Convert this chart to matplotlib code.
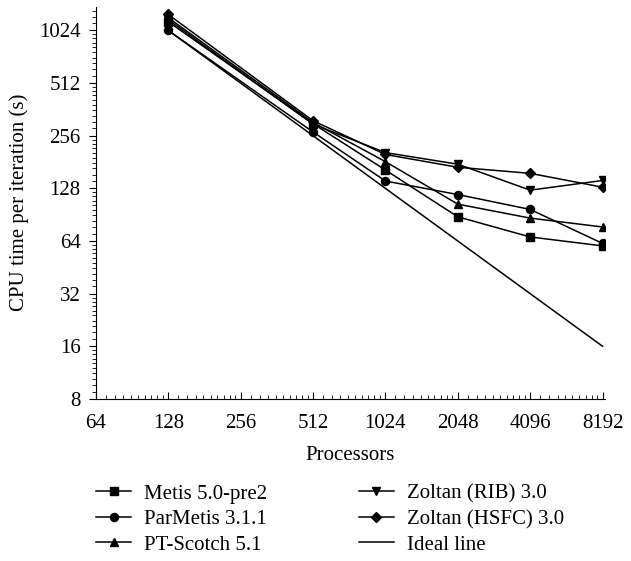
import matplotlib
matplotlib.use("Agg")
import matplotlib.pyplot as plt
from matplotlib.ticker import FixedLocator, NullFormatter

plt.rcParams["font.family"] = ["Liberation Serif", "DejaVu Serif"]

procs = [128, 512, 1024, 2048, 4096, 8192]
metis = [1150, 300, 163, 88, 67.5, 60]
parmetis = [1024, 269, 141, 118, 97, 62]
ptscotch = [1210, 305, 182, 104, 86.5, 77]
zoltan_rib = [1180, 298, 205, 176, 125, 142]
zoltan_hsfc = [1264, 312, 200, 169, 156, 130]
ideal = [1024 * 128 / p for p in procs]

major_y = [8, 16, 32, 64, 128, 256, 512, 1024]
major_x = [64, 128, 256, 512, 1024, 2048, 4096, 8192]

fig = plt.figure(figsize=(6.31, 5.61), dpi=100)
ax = fig.add_axes([0.152, 0.289, 0.807, 0.699])

style = dict(color="black", lw=1.1, ms=5.8)
ax.plot(procs, metis, marker="s", label="Metis 5.0-pre2", **style)
ax.plot(procs, parmetis, marker="o", label="ParMetis 3.1.1", **style)
ax.plot(procs, ptscotch, marker="^", label="PT-Scotch 5.1", **style)
ax.plot(procs, zoltan_rib, marker="v", label="Zoltan (RIB) 3.0", **style)
ax.plot(procs, zoltan_hsfc, marker="D", label="Zoltan (HSFC) 3.0", color="black", lw=1.1, ms=5.2)
ax.plot(procs, ideal, label="Ideal line", color="black", lw=1.1)

ax.set_xscale("log", base=2)
ax.set_yscale("log", base=2)
ax.set_xlim(64, 8400)
ax.set_ylim(8, 1400)

ax.xaxis.set_major_locator(FixedLocator(major_x))
ax.yaxis.set_major_locator(FixedLocator(major_y))
ax.set_xticklabels([str(v) for v in major_x])
ax.set_yticklabels([str(v) for v in major_y])

# linear minor ticks inside each doubling
minor_x = [b * (1 + i / 10) for b in major_x for i in range(1, 10)]
minor_y = [b * (1 + i / 10) for b in major_y for i in range(1, 10)]
ax.xaxis.set_minor_locator(FixedLocator([m for m in minor_x if m < 8400]))
ax.yaxis.set_minor_locator(FixedLocator([m for m in minor_y if m < 1400]))
ax.xaxis.set_minor_formatter(NullFormatter())
ax.yaxis.set_minor_formatter(NullFormatter())

ax.tick_params(axis="x", which="major", direction="in", length=5, labelsize=15, pad=11)
ax.tick_params(axis="x", which="minor", direction="in", length=3)
ax.tick_params(axis="y", which="major", direction="out", length=5, labelsize=15, pad=6)
ax.tick_params(axis="y", which="minor", direction="out", length=3)

for side in ["top", "right"]:
    ax.spines[side].set_visible(False)

ax.set_xlabel("Processors", fontsize=15, labelpad=9)
ax.set_ylabel("CPU time per iteration (s)", fontsize=15, labelpad=7)

fig.legend(loc="upper left", bbox_to_anchor=(0.152, 0.137), ncol=2, frameon=False,
           fontsize=15, handlelength=1.7, columnspacing=4.4, labelspacing=0.28,
           handletextpad=0.6, borderpad=0, borderaxespad=0)

fig.savefig("out.png", dpi=100)
